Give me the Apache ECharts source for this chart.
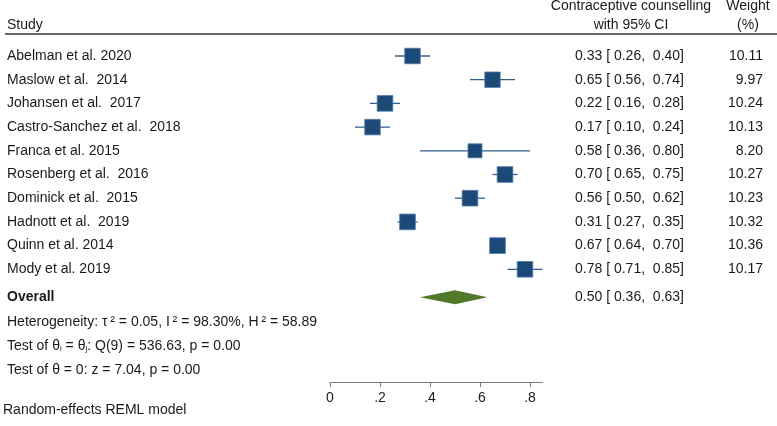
<!DOCTYPE html>
<html>
<head>
<meta charset="utf-8">
<script src="https://cdn.jsdelivr.net/npm/echarts@6.0.0/dist/echarts.min.js"></script>
<style>
  html, body { margin: 0; padding: 0; background: #fff; }
  #chart { width: 777px; height: 426px; }
</style>
</head>
<body>
<div id="chart"></div>
<script>
// study rows, top to bottom
var studies = ['Abelman et al. 2020', 'Maslow et al.  2014', 'Johansen et al.  2017',
  'Castro-Sanchez et al.  2018', 'Franca et al. 2015', 'Rosenberg et al.  2016',
  'Dominick et al.  2015', 'Hadnott et al.  2019', 'Quinn et al. 2014', 'Mody et al. 2019'];
var est    = [0.33, 0.65, 0.22, 0.17, 0.58, 0.70, 0.56, 0.31, 0.67, 0.78];
var lower  = [0.26, 0.56, 0.16, 0.10, 0.36, 0.65, 0.50, 0.27, 0.64, 0.71];
var upper  = [0.40, 0.74, 0.28, 0.24, 0.80, 0.75, 0.62, 0.35, 0.70, 0.85];
var weights = [10.11, 9.97, 10.24, 10.13, 8.20, 10.27, 10.23, 10.32, 10.36, 10.17];

// overall effect
var overallEst = 0.50, overallLo = 0.36, overallHi = 0.63;

// x axis
var xTicks = [0, 0.2, 0.4, 0.6, 0.8];
var xTickLabels = ['0', '.2', '.4', '.6', '.8'];

var FONT = '"Liberation Sans", Arial, sans-serif';
var TXT = '#1a1a1a';
var BLUE = '#1c4a78';
var OVERALL_ROW = 10.18;

function ciText(e, l, h) {
  return e.toFixed(2) + ' [ ' + l.toFixed(2) + ',  ' + h.toFixed(2) + ']';
}

var studyData = est.map(function (e, i) {
  return [e, lower[i], upper[i], i, weights[i]];
});

function txt(x, y, s, align, weight) {
  return {
    type: 'text', x: x, y: y, silent: true,
    style: { text: s, fill: TXT, font: (weight || 'normal') + ' 14px ' + FONT,
             textAlign: align || 'left', textVerticalAlign: 'middle' }
  };
}

function renderStudy(params, api) {
  var i = params.dataIndex;
  var row = api.value(3);
  var c = api.coord([api.value(0), row]);
  var l = api.coord([api.value(1), row]);
  var h = api.coord([api.value(2), row]);
  var s = 15.7 * Math.sqrt(api.value(4) / 10.36); // box area ~ weight
  return {
    type: 'group',
    children: [
      { type: 'line', shape: { x1: l[0], y1: c[1], x2: h[0], y2: c[1] },
        style: { stroke: '#2f5f90', lineWidth: 1.3 } },
      { type: 'rect', shape: { x: c[0] - s / 2, y: c[1] - s / 2, width: s, height: s },
        style: { fill: BLUE, stroke: '#4c77a3', lineWidth: 0.8 } },
      txt(7, c[1], studies[i]),
      txt(684, c[1], ciText(est[i], lower[i], upper[i]), 'right'),
      txt(763, c[1], weights[i].toFixed(2), 'right')
    ]
  };
}

function renderOverall(params, api) {
  var row = api.value(3);
  var c = api.coord([api.value(0), row]);
  var l = api.coord([api.value(1), row]);
  var h = api.coord([api.value(2), row]);
  return {
    type: 'group',
    children: [
      { type: 'polygon',
        shape: { points: [[l[0], c[1]], [c[0], c[1] - 7], [h[0], c[1]], [c[0], c[1] + 7]] },
        style: { fill: '#52782a' } },
      txt(7, c[1], 'Overall', 'left', 'bold'),
      txt(684, c[1], ciText(overallEst, overallLo, overallHi), 'right')
    ]
  };
}

var chart = echarts.init(document.getElementById('chart'), null, { renderer: 'canvas' });

var option = {
  backgroundColor: '#fff',
  animation: false,
  grid: { left: 330, top: 34, width: 212.5, height: 348 },
  xAxis: {
    type: 'value', min: 0, max: 0.85, position: 'bottom',
    splitLine: { show: false },
    axisLine: { show: true, onZero: false, lineStyle: { color: '#7a7a7a', width: 1 } },
    axisTick: { show: true, length: 5, customValues: xTicks, lineStyle: { color: '#7a7a7a' } },
    axisLabel: {
      customValues: xTicks, margin: 9, color: TXT, fontSize: 14, fontFamily: FONT,
      formatter: function (v) {
        var k = xTicks.indexOf(Math.round(v * 100) / 100);
        return k >= 0 ? xTickLabels[k] : '';
      }
    }
  },
  yAxis: {
    type: 'value', inverse: true, min: -0.928, max: 13.755, show: false
  },
  series: [
    {
      type: 'custom', clip: false, silent: true,
      renderItem: renderStudy,
      encode: { x: [0, 1, 2], y: 3 },
      data: studyData
    },
    {
      type: 'custom', clip: false, silent: true,
      renderItem: renderOverall,
      encode: { x: [0, 1, 2], y: 3 },
      data: [[overallEst, overallLo, overallHi, OVERALL_ROW]]
    }
  ],
  graphic: [
    txt(7, 25, 'Study'),
    txt(631, 6, 'Contraceptive counselling', 'center'),
    txt(631, 25, 'with 95% CI', 'center'),
    txt(748, 6, 'Weight', 'center'),
    txt(748, 25, '(%)', 'center'),
    { type: 'line', shape: { x1: 5, y1: 34, x2: 777, y2: 34 },
      style: { stroke: '#333', lineWidth: 1.5 } },
    txt(7, 322.5, 'Heterogeneity: \u03c4\u2009\u00b2 = 0.05, I\u2009\u00b2 = 98.30%, H\u2009\u00b2 = 58.89'),
    {
      type: 'text', x: 7, y: 346,
      style: {
        text: 'Test of \u03b8{sub|i} = \u03b8{sub|j}: Q(9) = 536.63, p = 0.00',
        fill: TXT, font: '14px ' + FONT, textVerticalAlign: 'middle',
        rich: { sub: { fontSize: 8, fontFamily: FONT, fill: TXT, padding: [6, 0, 0, 0] } }
      }
    },
    txt(7, 370, 'Test of \u03b8 = 0: z = 7.04, p = 0.00'),
    txt(3, 410, 'Random-effects REML model')
  ]
};

chart.setOption(option);
</script>
</body>
</html>
